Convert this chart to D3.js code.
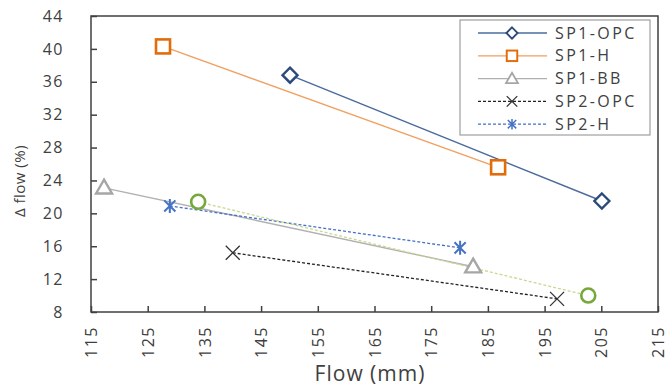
<!DOCTYPE html>
<html>
<head>
<meta charset="utf-8">
<script src="https://cdn.jsdelivr.net/npm/d3@7"></script>
<style>
  body { margin: 0; background: #fff; }
  text { font-family: "Open Sans", "Noto Sans", sans-serif; fill: #404040; }
</style>
</head>
<body>
<div id="chart"></div>
<script>
// data
var xTicks = [115, 125, 135, 145, 155, 165, 175, 185, 195, 205, 215];
var yTicks = [8, 12, 16, 20, 24, 28, 32, 36, 40, 44];

var sp1Opc = [[150.1, 36.8], [205.1, 21.5]];
var sp1H   = [[127.7, 40.3], [186.8, 25.6]];
var sp1BB  = [[117.3, 23.1], [182.4, 13.5]];
var sp2Opc = [[140.0, 15.2], [197.2, 9.6]];
var sp2H   = [[128.9, 20.9], [180.1, 15.8]];
var sp2BB  = [[133.9, 21.4], [202.7, 10.0]];

var series = [
  { name: "SP1-OPC", pts: sp1Opc, color: "#4a6b9c", mcolor: "#2a4a7c", dash: null, sym: "diamond", legend: true },
  { name: "SP1-H",   pts: sp1H,   color: "#f0a060", mcolor: "#e36c0a", dash: null, sym: "square", legend: true },
  { name: "SP1-BB",  pts: sp1BB,  color: "#b0b0b0", mcolor: "#a6a6a6", dash: null, sym: "triangle", legend: true },
  { name: "SP2-OPC", pts: sp2Opc, color: "#222", mcolor: "#333", dash: "3,2", sym: "x", legend: true },
  { name: "SP2-H",   pts: sp2H,   color: "#4472c4", mcolor: "#4472c4", dash: "3,2", sym: "star", legend: true },
  { name: "SP2-BB",  pts: sp2BB,  color: "#c8d890", mcolor: "#77a83a", dash: "3,2", sym: "circle", legend: false }
];

var svgWidth = 669, svgHeight = 387;
var margin = { top: 16, right: 11, bottom: 75, left: 91 };
var width = svgWidth - margin.left - margin.right;
var height = svgHeight - margin.top - margin.bottom;

var svg = d3.select("#chart").append("svg")
  .attr("width", svgWidth)
  .attr("height", svgHeight);
var g = svg.append("g").attr("transform", `translate(${margin.left}, ${margin.top})`);

var x = d3.scaleLinear().domain([115, 215]).range([0, width]);
var y = d3.scaleLinear().domain([8, 44]).range([height, 0]);

// plot border
g.append("rect").attr("width", width).attr("height", height)
  .attr("fill", "none").attr("stroke", "#404040").attr("stroke-width", 1.5);

// axes (ticks pointing inward)
var xAxis = g.append("g").attr("transform", `translate(0, ${height})`)
  .call(d3.axisBottom(x).tickValues(xTicks).tickSize(-6).tickPadding(10));
xAxis.select(".domain").remove();
xAxis.selectAll("line").attr("stroke", "#404040").attr("stroke-width", 1.5);
xAxis.selectAll("text")
  .attr("font-size", 16).attr("fill", "#404040").attr("letter-spacing", 1.5)
  .attr("transform", "rotate(-90)")
  .attr("text-anchor", "end")
  .attr("x", -14).attr("y", 0).attr("dy", "0.35em");

var yAxis = g.append("g")
  .call(d3.axisLeft(y).tickValues(yTicks).tickSize(-6).tickPadding(27));
yAxis.select(".domain").remove();
yAxis.selectAll("line").attr("stroke", "#404040").attr("stroke-width", 1.5);
yAxis.selectAll("text").attr("font-size", 16).attr("fill", "#404040").attr("letter-spacing", 1.5);

// axis titles
g.append("text")
  .attr("x", 279).attr("y", height + 69)
  .attr("text-anchor", "middle").attr("font-size", 21).attr("letter-spacing", 1)
  .text("Flow (mm)");
g.append("text")
  .attr("transform", "rotate(-90)")
  .attr("x", -165).attr("y", -66)
  .attr("text-anchor", "middle").attr("font-size", 15).attr("letter-spacing", 0.5)
  .text("Δ flow (%)");

function drawMarker(sel, s, cx, cy, scale) {
  var k = scale || 1;
  if (s.sym === "diamond") {
    var r = 7.5 * k;
    sel.append("path").attr("d", `M${cx},${cy - r}L${cx + r},${cy}L${cx},${cy + r}L${cx - r},${cy}Z`)
      .attr("fill", "#fff").attr("stroke", s.mcolor).attr("stroke-width", 2.4 * k);
  } else if (s.sym === "square") {
    sel.append("rect").attr("x", cx - 7 * k).attr("y", cy - 7 * k)
      .attr("width", 14 * k).attr("height", 14 * k)
      .attr("fill", "#fff").attr("stroke", s.mcolor).attr("stroke-width", 2.6 * k);
  } else if (s.sym === "triangle") {
    sel.append("path").attr("d", d3.symbol(d3.symbolTriangle, 110 * k * k)())
      .attr("transform", `translate(${cx},${cy + 1})`)
      .attr("fill", "#fff").attr("stroke", s.mcolor).attr("stroke-width", 2.4 * k);
  } else if (s.sym === "x") {
    var r1 = 7 * k;
    sel.append("path").attr("d", `M${cx - r1},${cy - r1}L${cx + r1},${cy + r1}M${cx - r1},${cy + r1}L${cx + r1},${cy - r1}`)
      .attr("stroke", s.mcolor).attr("stroke-width", 1.3);
  } else if (s.sym === "star") {
    var r2 = 7 * k, d2 = r2 * 0.8;
    var p = `M${cx},${cy - r2}L${cx},${cy + r2}` +
      `M${cx - d2},${cy - d2}L${cx + d2},${cy + d2}` +
      `M${cx - d2},${cy + d2}L${cx + d2},${cy - d2}`;
    sel.append("path").attr("d", p).attr("stroke", s.mcolor).attr("stroke-width", 2 * k);
  } else if (s.sym === "circle") {
    sel.append("circle").attr("cx", cx).attr("cy", cy).attr("r", 7 * k)
      .attr("fill", "#fff").attr("stroke", s.mcolor).attr("stroke-width", 2.6 * k);
  }
}

var line = d3.line().x(d => x(d[0])).y(d => y(d[1]));

series.forEach(function (s) {
  g.append("path").datum(s.pts).attr("d", line)
    .attr("fill", "none").attr("stroke", s.color)
    .attr("stroke-width", s.dash ? 1.3 : 1.4)
    .attr("stroke-dasharray", s.dash);
});
series.forEach(function (s) {
  s.pts.forEach(function (d) { drawMarker(g, s, x(d[0]), y(d[1])); });
});

// legend
var lg = svg.append("g").attr("transform", "translate(460, 20)");
lg.append("rect").attr("width", 190).attr("height", 115)
  .attr("fill", "#fff").attr("stroke", "#8c8c8c").attr("stroke-width", 1);
series.filter(s => s.legend).forEach(function (s, i) {
  var ly = 13 + i * 22.8;
  lg.append("line").attr("x1", 18).attr("x2", 87).attr("y1", ly).attr("y2", ly)
    .attr("stroke", s.color).attr("stroke-width", 1.3).attr("stroke-dasharray", s.dash);
  drawMarker(lg, s, 52, ly, 0.75);
  lg.append("text").attr("x", 95).attr("y", ly).attr("dy", "0.35em")
    .attr("font-size", 16).attr("fill", "#333").attr("letter-spacing", 2.4)
    .text(s.name);
});
</script>
</body>
</html>
